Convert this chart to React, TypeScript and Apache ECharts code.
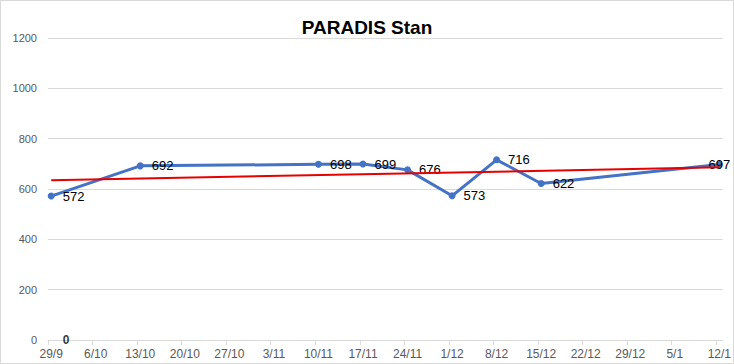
import React, { useEffect, useRef } from 'react';
import * as echarts from 'echarts';

// Weekly tick labels of the date axis
const tickLabels = ['29/9', '6/10', '13/10', '20/10', '27/10', '3/11', '10/11', '17/11', '24/11', '1/12', '8/12', '15/12', '22/12', '29/12', '5/1', '12/1'];
// Measured series
const pointDates = ['29/9', '13/10', '10/11', '17/11', '24/11', '1/12', '8/12', '15/12', '12/1'];
const stanValues = [572, 692, 698, 699, 676, 573, 716, 622, 697];
// Second series (single zero point)
const zeroDates = ['29/9'];
const zeroValues = [0];
// Value axis
const yMin = 0;
const yMax = 1200;
const yInterval = 200;

const DAYS_PER_TICK = 7;
const dayOf = (d: string) => tickLabels.indexOf(d) * DAYS_PER_TICK + 0.5;

export default function App() {
  const ref = useRef<HTMLDivElement>(null);

  useEffect(() => {
    if (!ref.current) return;
    const chart = echarts.init(ref.current, null, { renderer: 'svg' });

    const xs = pointDates.map(dayOf);
    const n = xs.length;
    const mx = xs.reduce((a, b) => a + b, 0) / n;
    const my = stanValues.reduce((a, b) => a + b, 0) / n;
    let sxy = 0;
    let sxx = 0;
    xs.forEach((x, i) => {
      sxy += (x - mx) * (stanValues[i] - my);
      sxx += (x - mx) * (x - mx);
    });
    const slope = sxy / sxx;
    const icpt = my - slope * mx;
    const x0 = xs[0];
    const x1 = xs[n - 1];
    const trend = [
      [x0, icpt + slope * x0],
      [x1, icpt + slope * x1],
    ];

    const tickDays = tickLabels.map((_, i) => i * DAYS_PER_TICK);
    const xMax = (tickLabels.length - 1) * DAYS_PER_TICK + 1;
    const font = '"Liberation Sans", Arial, sans-serif';

    chart.setOption({
      animation: false,
      backgroundColor: '#ffffff',
      textStyle: { fontFamily: font },
      title: {
        text: 'PARADIS Stan',
        left: 'center',
        top: 13,
        textStyle: { fontSize: 19, fontWeight: 'bold', color: '#000000', fontFamily: font },
      },
      graphic: [
        {
          type: 'rect',
          shape: { x: 0.5, y: 0.5, width: 733, height: 363 },
          style: { fill: 'none', stroke: '#d9d9d9', lineWidth: 1 },
          silent: true,
          z: 100,
        },
      ],
      grid: { left: 48, right: 11, top: 38, bottom: 24, containLabel: false },
      xAxis: {
        type: 'value',
        min: 0,
        max: xMax,
        axisLine: { show: true, lineStyle: { color: '#d9d9d9', width: 1 } },
        axisTick: { show: true, customValues: tickDays, length: 5, lineStyle: { color: '#d9d9d9' } },
        axisLabel: {
          customValues: tickDays.map((d) => d + 0.5),
          formatter: (v: number) => tickLabels[Math.floor(v / DAYS_PER_TICK)] ?? '',
          color: '#595959',
          fontSize: 12,
          margin: 8,
          fontFamily: font,
        },
        splitLine: { show: false },
      },
      yAxis: {
        type: 'value',
        min: yMin,
        max: yMax,
        interval: yInterval,
        axisLine: { show: false },
        axisTick: { show: false },
        axisLabel: {
          color: '#595959',
          fontSize: 11,
          margin: 11,
          fontFamily: font,
          formatter: (v: number) => String(v),
        },
        splitLine: { lineStyle: { color: '#d9d9d9', width: 1 } },
      },
      series: [
        {
          name: 'Stan',
          type: 'line',
          data: xs.map((x, i) => ({
            value: [x, stanValues[i]],
            label: i === n - 1 ? { position: 'inside' } : undefined,
          })),
          symbol: 'circle',
          symbolSize: 7,
          lineStyle: { color: '#4472C4', width: 3 },
          itemStyle: { color: '#4472C4' },
          label: {
            show: true,
            position: 'right',
            distance: 8,
            color: '#000000',
            fontSize: 13,
            fontFamily: font,
            formatter: (p: any) => String(p.value[1]),
          },
          z: 3,
        },
        {
          name: 'Zero',
          type: 'scatter',
          data: zeroDates.map((d, i) => [dayOf(d), zeroValues[i]]),
          symbolSize: 1,
          itemStyle: { color: 'rgba(0,0,0,0)' },
          label: {
            show: true,
            position: 'right',
            distance: 11,
            color: '#000000',
            fontSize: 12,
            fontWeight: 'bold',
            fontFamily: font,
            formatter: (p: any) => String(p.value[1]),
          },
          z: 4,
        },
        {
          name: 'Trend',
          type: 'line',
          data: trend,
          symbol: 'none',
          lineStyle: { color: '#e60000', width: 2 },
          z: 5,
        },
      ],
    });

    return () => chart.dispose();
  }, []);

  return (
    <div
      ref={ref}
      style={{ position: 'absolute', left: 0, top: 0, width: 734, height: 364 }}
    />
  );
}
